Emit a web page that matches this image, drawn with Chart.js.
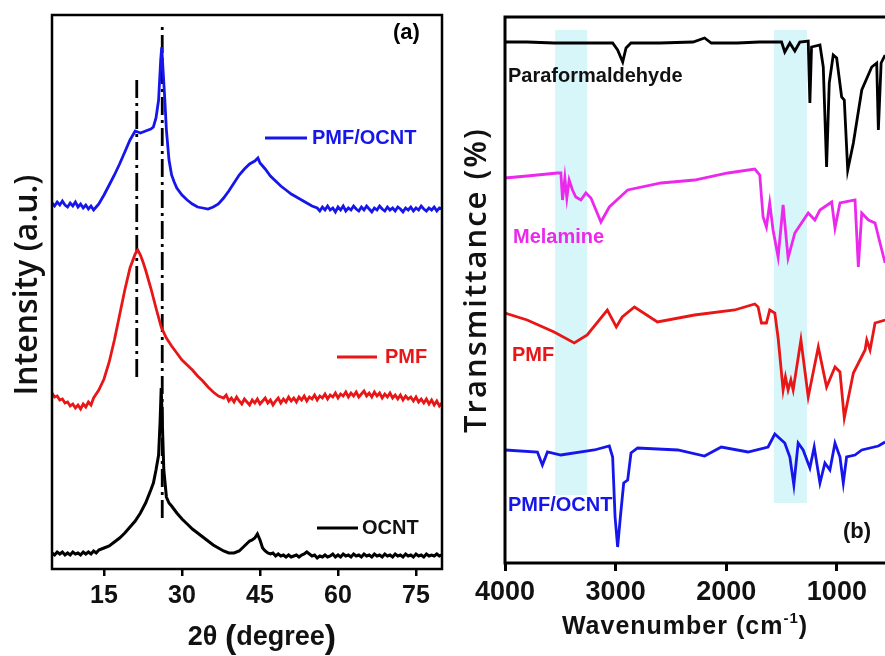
<!DOCTYPE html>
<html><head><meta charset="utf-8">
<script src="https://cdn.jsdelivr.net/npm/chart.js@4/dist/chart.umd.min.js"></script>
<style>
html,body{margin:0;padding:0;background:#fff;width:885px;height:656px;overflow:hidden}
#wrapA{position:absolute;left:0;top:0;width:455px;height:656px}
#wrapB{position:absolute;left:455px;top:0;width:430px;height:656px}
</style></head><body>
<div id="wrapA"><canvas id="xrd" width="455" height="656"></canvas></div>
<div id="wrapB"><canvas id="ftir" width="430" height="656"></canvas></div>
<script>
// ---------- Panel (a): XRD ----------
const xrdTicks = [15, 30, 45, 60, 75];
const ocntX = [5,5.5,6,6.5,7,7.5,8,8.5,9,9.5,10,10.5,11,11.5,12,12.5,13,13.5,14,
  15,16,17,18,19,20,21,22,23,24,24.5,25,25.5,25.8,26,26.2,26.5,27,27.5,28,29,30,31,32,33,34,35,36,37,38,39,40,41,42,43,43.5,44,44.5,45,45.5,
  46,46.5,47,47.5,48,48.5,49,49.5,50,50.5,51,51.5,52,52.5,53,53.5,54,54.5,55,55.5,56,56.5,57,57.5,58,58.5,59,59.5,60,60.5,61,61.5,62,62.5,63,63.5,64,64.5,65,65.5,66,66.5,67,67.5,68,68.5,69,69.5,70,70.5,71,71.5,72,72.5,73,73.5,74,74.5,75,75.5,76,76.5,77,77.5,78,78.5,79,79.5,80];
const ocntY = [16,14,17,15,17,14,16,14,17,15,16,14,17,15,17,15,18,16,19,
  21,23,27,31,36,42,48,56,66,79,86,99,114,149,181,149,99,72,66,63,56,50,45,40,36,32,28,24,21,18,16,16,18,23,28,29,31,35,29,21,
  18,16,15,16,13,15,13,14,12,14,12,13,14,12,14,15,17,15,13,14,11,13,12,14,12,13,15,12,14,12,15,13,14,12,15,13,14,12,15,13,14,12,15,13,14,12,15,13,14,12,15,13,14,12,15,13,14,12,15,13,14,12,15,13,14,13,15,13,14];
const pmfX = [5,5.5,6,6.5,7,7.5,8,8.5,9,9.5,10,10.5,11,11.5,12,12.5,13,
  14,15,16,17,18,19,20,21,21.5,22,22.5,23,24,25,26,27,28,29,30,31,32,33,34,35,36,37,
  38,38.5,39,39.5,40,40.5,41,41.5,42,42.5,43,43.5,44,44.5,45,45.5,46,46.5,47,47.5,48,48.5,49,49.5,50,50.5,51,51.5,52,52.5,53,53.5,54,54.5,55,55.5,56,56.5,57,57.5,58,58.5,59,59.5,60,60.5,61,61.5,62,62.5,63,63.5,64,64.5,65,65.5,66,66.5,67,67.5,68,68.5,69,69.5,70,70.5,71,71.5,72,72.5,73,73.5,74,74.5,75,75.5,76,76.5,77,77.5,78,78.5,79,79.5,80];
const pmfY = [176,172,173,169,170,166,167,163,165,161,164,160,165,162,167,164,171,
  179,190,207,229,254,279,301,315,319,314,307,299,281,261,242,231,223,216,209,204,199,193,188,182,177,173,
  171,174,168,171,167,172,168,165,170,167,164,169,166,170,165,168,171,166,169,164,168,171,166,170,167,172,168,171,167,172,
  169,173,168,172,170,174,169,173,171,175,170,174,172,176,171,175,173,177,172,176,173,177,172,175,178,173,176,172,177,173,
  176,171,175,172,176,171,174,170,174,169,173,170,172,168,172,167,170,166,170,165,169,164,168,163,166];
const pocX = [5,5.5,6,6.5,7,7.5,8,8.5,9,9.5,10,10.5,11,11.5,12,12.5,13,13.5,14,
  15,16,17,18,19,20,21,22,23,24,24.5,25,25.5,25.9,26.1,26.3,26.7,27,27.5,28,28.5,29,30,31,32,33,34,35,36,37,38,39,40,41,42,43,44,44.6,45,46,47,48,49,50,51,52,53,54,55,
  56,56.5,57,57.5,58,58.5,59,59.5,60,60.5,61,61.5,62,62.5,63,63.5,64,64.5,65,65.5,66,66.5,67,67.5,68,68.5,69,69.5,70,70.5,71,71.5,72,72.5,73,73.5,74,74.5,75,75.5,76,76.5,77,77.5,78,78.5,79,79.5,80];
const pocY = [366,363,367,364,368,364,362,366,363,367,362,365,361,364,360,363,359,362,365,
  374,384,394,405,417,429,438,436,438,440,442,451,469,509,522,504,469,439,409,394,387,381,374,369,365,362,361,360,362,365,371,378,386,394,400,405,408,411,406,400,393,388,383,379,375,372,369,366,363,
  361,358,362,359,363,359,361,357,362,359,363,358,361,359,363,360,358,362,359,363,360,357,361,359,363,360,358,362,359,361,358,362,360,357,361,359,362,358,361,359,363,360,358,361,359,362,358,361,360];
const markX = [21.3, 26.2];
const markTop = [489, 544];
const markBottom = [192, 51];

// ---------- Panel (b): FTIR ----------
const ftirTicks = [4000, 3000, 2000, 1000];
const paraX = [4000,3800,3556,3311,3027,2982,2936,2906,2861,2600,2300,2196,2135,1900,1700,1500,1471,1425,1380,1335,1259,1244,1229,1153,1123,1093,1069,1033,1002,957,933,902,851,775,685,640,625,600,564];
const paraY = [521,521,520,520,520,513,501,515,520,520,521,525,520,520,521,521,511,520,512,521,522,460,516,518,496,396,480,508,505,466,463,393,420,473,496,500,433,500,508];
const melX = [4000,3800,3526,3495,3480,3459,3441,3420,3390,3360,3314,3269,3223,3133,3057,2891,2589,2287,1985,1742,1697,1667,1637,1607,1577,1531,1486,1441,1380,1259,1199,1153,1047,1017,972,836,806,775,715,655,594,564];
const melY = [385,387,390,390,363,385,365,383,373,366,363,370,365,341,356,373,380,383,390,394,388,346,336,360,333,306,358,305,330,350,343,353,361,335,360,363,296,350,343,340,313,300];
const pmfIrX = [4000,3800,3556,3374,3257,3075,2994,2940,2830,2622,2287,1924,1742,1712,1682,1637,1607,1561,1531,1486,1465,1441,1416,1395,1325,1259,1168,1093,1017,972,933,851,745,730,700,655,564];
const pmfIrY = [250,243,231,220,228,253,236,246,256,241,248,253,259,256,240,240,253,250,225,173,186,173,183,173,223,166,216,176,196,191,145,190,213,223,213,240,243];
const pocIrX = [4000,3707,3662,3616,3495,3193,3057,3027,3005,2982,2957,2927,2891,2861,2801,2438,2196,2045,1803,1622,1561,1471,1425,1389,1350,1305,1244,1205,1153,1108,1063,1017,972,942,912,836,775,625,564];
const pocIrY = [113,111,98,111,108,113,117,106,46,16,46,80,83,110,115,113,107,116,111,116,129,120,106,78,120,113,95,116,80,100,93,120,106,80,106,108,113,117,121];
const bandLo = [3547, 1570];
const bandHi = [3257, 1271];
const bandTop = [533, 533];
const bandBottom = [68, 60];

const BLUE = 'rgb(22,22,235)', RED = 'rgb(232,22,22)', MAG = 'rgb(236,40,236)', BLK = '#000';
const pts = (xs, ys) => xs.map((x, i) => ({x: x, y: ys[i]}));

// ---------- plugins ----------
const framePlugin = {
  id: 'frame',
  afterDatasetsDraw(chart, args, o) {
    const {ctx, chartArea: a} = chart;
    ctx.save();
    ctx.strokeStyle = '#000'; ctx.lineWidth = o.width || 2.5; ctx.lineCap = 'square';
    ctx.beginPath();
    if (o.sides.includes('l')) { ctx.moveTo(a.left, a.top); ctx.lineTo(a.left, a.bottom); }
    if (o.sides.includes('b')) { ctx.moveTo(a.left, a.bottom); ctx.lineTo(a.right, a.bottom); }
    if (o.sides.includes('t')) { ctx.moveTo(a.left, a.top); ctx.lineTo(a.right, a.top); }
    if (o.sides.includes('r')) { ctx.moveTo(a.right, a.top); ctx.lineTo(a.right, a.bottom); }
    ctx.stroke();
    ctx.restore();
  }
};
const bandPlugin = {
  id: 'bands',
  beforeDatasetsDraw(chart, args, o) {
    if (!o.lo) return;
    const {ctx, scales: {x, y}} = chart;
    ctx.save();
    ctx.fillStyle = o.color;
    o.lo.forEach((lo, i) => {
      const x1 = x.getPixelForValue(lo), x2 = x.getPixelForValue(o.hi[i]);
      const y1 = y.getPixelForValue(o.top[i]), y2 = y.getPixelForValue(o.bottom[i]);
      ctx.fillRect(Math.min(x1, x2), y1, Math.abs(x2 - x1), y2 - y1);
    });
    ctx.restore();
  }
};
const textPlugin = {
  id: 'texts',
  afterDraw(chart, args, o) {
    const ctx = chart.ctx;
    (o.items || []).forEach(it => {
      ctx.save();
      if (it.line) {
        ctx.strokeStyle = it.color; ctx.lineWidth = it.w || 3;
        ctx.beginPath(); ctx.moveTo(it.line[0], it.line[1]); ctx.lineTo(it.line[2], it.line[1]); ctx.stroke();
        ctx.restore(); return;
      }
      ctx.fillStyle = it.color || '#000';
      ctx.textBaseline = 'middle';
      if ('letterSpacing' in ctx) ctx.letterSpacing = (it.ls || 0) + 'px';
      ctx.translate(it.x, it.y);
      if (it.rot) ctx.rotate(it.rot);
      const parts = it.parts || [{t: it.text, font: it.font}];
      let total = 0;
      parts.forEach(p => { ctx.font = p.font || it.font; p.w = ctx.measureText(p.t).width; total += p.w; });
      let cx = it.align === 'center' ? -total / 2 : 0;
      ctx.textAlign = 'left';
      parts.forEach(p => { ctx.font = p.font || it.font; ctx.fillText(p.t, cx, p.dy || 0); cx += p.w; });
      ctx.restore();
    });
  }
};

const labFont = 'bold 20px "Liberation Sans", Arial, sans-serif';
const bigParen = 'bold 34px "Liberation Sans", Arial, sans-serif';

// ---------- Chart (a) ----------
new Chart(document.getElementById('xrd'), {
  type: 'line',
  data: {
    datasets: [
      {data: pts(pocX, pocY), borderColor: BLUE, borderWidth: 2.8},
      {data: pts(pmfX, pmfY), borderColor: RED, borderWidth: 2.8},
      {data: pts(ocntX, ocntY), borderColor: BLK, borderWidth: 3},
      {data: [{x: markX[0], y: markBottom[0]}, {x: markX[0], y: markTop[0]}], borderColor: BLK, borderWidth: 2.8, borderDash: [18, 5, 3, 5]},
      {data: [{x: markX[1], y: markBottom[1]}, {x: markX[1], y: markTop[1]}], borderColor: BLK, borderWidth: 2.8, borderDash: [18, 5, 3, 5]}
    ]
  },
  options: {
    responsive: false, animation: false, devicePixelRatio: 1,
    layout: {padding: {top: 15, right: 13, left: 0, bottom: 0}},
    elements: {point: {radius: 0}, line: {tension: 0}},
    plugins: {
      legend: {display: false}, tooltip: {enabled: false},
      frame: {sides: 'lbtr', width: 2.5},
      texts: {items: [
        {text: '(a)', x: 393, y: 33, font: 'bold 22px "Liberation Sans", Arial, sans-serif'},
        {line: [265, 138, 307], color: BLUE, w: 3},
        {text: 'PMF/OCNT', x: 312, y: 138, font: labFont, color: BLUE},
        {line: [337, 357, 377], color: RED, w: 3},
        {text: 'PMF', x: 385, y: 357, font: labFont, color: RED},
        {line: [317, 528, 358], color: BLK, w: 3},
        {text: 'OCNT', x: 362, y: 528, font: labFont, color: '#111'},
        {text: 'Intensity (a.u.)', x: 28, y: 285, rot: -Math.PI / 2, align: 'center', font: '600 32px "Open Sans", sans-serif', color: '#111'},
        {x: 262, y: 638, align: 'center', font: 'bold 27px "Liberation Sans", Arial, sans-serif', color: '#111',
          parts: [{t: '2\u03b8 '}, {t: '(', font: bigParen, dy: 1}, {t: 'degree'}, {t: ')', font: bigParen, dy: 1}]}
      ]}
    },
    scales: {
      x: {
        type: 'linear', min: 5, max: 80,
        afterBuildTicks: s => { s.ticks = xrdTicks.map(v => ({value: v})); },
        afterFit: s => { s.height = 87; },
        grid: {display: true, drawOnChartArea: false, drawTicks: true, tickLength: 7, lineWidth: 2.5, color: '#000'},
        border: {display: false},
        ticks: {autoSkip: false, maxRotation: 0, padding: 5, color: '#111', callback: v => String(v),
          font: {family: '"Liberation Sans", Arial, sans-serif', size: 25, weight: 'bold'}}
      },
      y: {
        type: 'linear', min: 0, max: 554,
        afterFit: s => { s.width = 52; },
        ticks: {display: false}, grid: {display: false}, border: {display: false}
      }
    }
  },
  plugins: [framePlugin, textPlugin]
});

// ---------- Chart (b) ----------
new Chart(document.getElementById('ftir'), {
  type: 'line',
  data: {
    datasets: [
      {data: pts(paraX, paraY), borderColor: BLK, borderWidth: 2.8},
      {data: pts(melX, melY), borderColor: MAG, borderWidth: 2.8},
      {data: pts(pmfIrX, pmfIrY), borderColor: RED, borderWidth: 2.8},
      {data: pts(pocIrX, pocIrY), borderColor: BLUE, borderWidth: 2.8}
    ]
  },
  options: {
    responsive: false, animation: false, devicePixelRatio: 1,
    layout: {padding: {top: 17, right: 0, left: 0, bottom: 0}},
    elements: {point: {radius: 0}, line: {tension: 0}},
    plugins: {
      legend: {display: false}, tooltip: {enabled: false},
      frame: {sides: 'lbt', width: 3},
      bands: {lo: bandLo, hi: bandHi, top: bandTop, bottom: bandBottom, color: 'rgb(214,246,250)'},
      texts: {items: [
        {text: 'Paraformaldehyde', x: 53, y: 76, font: labFont, color: '#111'},
        {text: 'Melamine', x: 58, y: 237, font: labFont, color: MAG},
        {text: 'PMF', x: 57, y: 355, font: labFont, color: RED},
        {text: 'PMF/OCNT', x: 53, y: 505, font: labFont, color: BLUE},
        {text: '(b)', x: 388, y: 532, font: 'bold 22px "Liberation Sans", Arial, sans-serif', color: '#111'},
        {text: 'Transmittance (%)', x: 22, y: 280, rot: -Math.PI / 2, align: 'center', ls: 2, font: '600 31px "Open Sans", sans-serif', color: '#111'},
        {x: 230, y: 627, align: 'center', ls: 1, font: 'bold 25px "Liberation Sans", Arial, sans-serif', color: '#111',
          parts: [{t: 'Wavenumber (cm'}, {t: '-1', font: 'bold 15px "Liberation Sans", Arial, sans-serif', dy: -8}, {t: ')'}]}
      ]}
    },
    scales: {
      x: {
        type: 'linear', min: 565, max: 4000, reverse: true,
        afterBuildTicks: s => { s.ticks = ftirTicks.map(v => ({value: v})); },
        afterFit: s => { s.height = 93; },
        grid: {display: true, drawOnChartArea: false, drawTicks: true, tickLength: 8, lineWidth: 3, color: '#000'},
        border: {display: false},
        ticks: {autoSkip: false, maxRotation: 0, padding: 5, color: '#111', callback: v => String(v),
          font: {family: '"Liberation Sans", Arial, sans-serif', size: 27, weight: 'bold'}}
      },
      y: {
        type: 'linear', min: 0, max: 546,
        afterFit: s => { s.width = 50; },
        ticks: {display: false}, grid: {display: false}, border: {display: false}
      }
    }
  },
  plugins: [bandPlugin, framePlugin, textPlugin]
});
</script>
</body></html>
